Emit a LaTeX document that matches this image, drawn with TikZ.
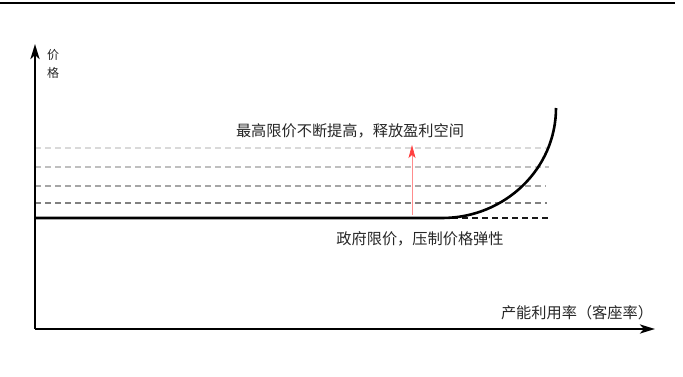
\documentclass[tikz,border=0pt]{standalone}
\usepackage{fontspec}
\newfontfamily\cjk{Noto Sans CJK SC}
\usetikzlibrary{arrows.meta}
\begin{document}
\begin{tikzpicture}[x=1pt,y=-1pt,
  axis/.style={line width=2.6pt,-{Stealth[length=15pt,width=9pt,inset=4pt]}},
  thick curve/.style={line width=2.6pt},
  guide/.style={line width=1.2pt,dash pattern=on 6pt off 4pt},
  lbl/.style={font=\cjk\fontsize{15.2}{17}\selectfont,text=black!85,inner sep=0pt},
  ylbl/.style={font=\cjk\fontsize{12}{14}\selectfont,text=black!85,inner sep=0pt},
  rise/.style={draw=red!45,line width=0.7pt,-{Stealth[length=13pt,width=7pt,inset=3pt,color=red!75]}}]
\useasboundingbox (0,0) rectangle (683,376);
% top rule
\draw[line width=2pt] (0,2.5) -- (675,2.5);
% coordinates
\coordinate (O) at (35,329);
\coordinate (Ytip) at (35,44);
\coordinate (Xtip) at (655,329);
\coordinate (B0) at (35,218);
\coordinate (K) at (442,218);
\coordinate (Kend) at (548,218);
\coordinate (G1a) at (35,148); \coordinate (G1b) at (547,148);
\coordinate (G2a) at (35,167); \coordinate (G2b) at (549,167);
\coordinate (G3a) at (35,186); \coordinate (G3b) at (546,186);
\coordinate (G4a) at (35,203); \coordinate (G4b) at (547,203);
\coordinate (Rb) at (412,215);
\coordinate (Rt) at (412,145);
% guide lines
\draw[guide,draw=black!15] (G1a) -- (G1b);
\draw[guide,draw=black!25] (G2a) -- (G2b);
\draw[guide,draw=black!35] (G3a) -- (G3b);
\draw[guide,draw=black!50] (G4a) -- (G4b);
\draw[guide,draw=black!90,line width=1.5pt] (K) -- (Kend);
% curve
\draw[thick curve] (B0) -- (K) arc[start angle=90,end angle=0,x radius=114,y radius=110];
% axes
\draw[axis] (O) -- (Ytip);
\draw[axis] (O) -- (Xtip);
% red arrow
\draw[rise] (Rb) -- (Rt);
% labels
\node[ylbl] (yl1) at (53,55) {价};
\node[ylbl] (yl2) at (53,73) {格};
\node[lbl] (top) at (350,131) {最高限价不断提高，释放盈利空间};
\node[lbl] (bot) at (420,239) {政府限价，压制价格弹性};
\node[lbl] (xl) at (577,313) {产能利用率（客座率）};
\end{tikzpicture}
\end{document}
